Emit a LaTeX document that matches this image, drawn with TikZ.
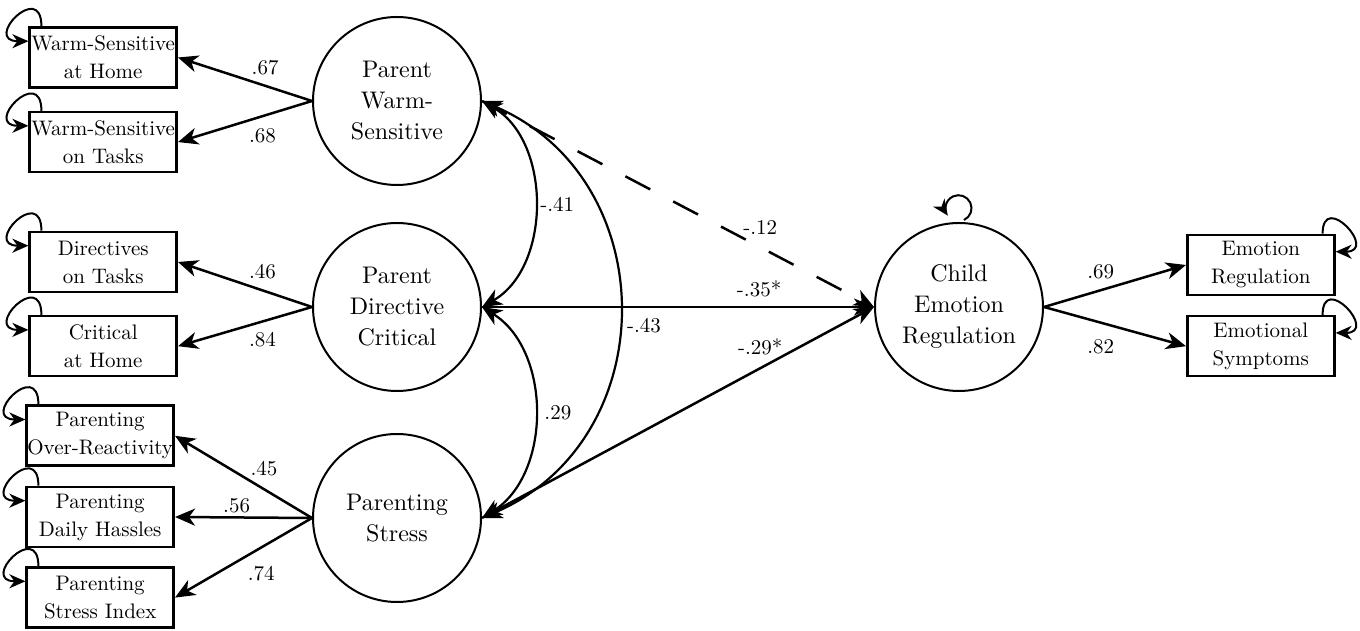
\documentclass[tikz,border=0pt]{standalone}
\usepackage{fontspec}
\setmainfont{lmroman10-regular.otf}
\usepackage{tikz}
\usetikzlibrary{arrows.meta, positioning}

\begin{document}
\begin{tikzpicture}[
    x=1pt, y=1pt,
    latent/.style={circle, draw, line width=2pt, minimum size=168pt, inner sep=0pt, align=center, font=\fontsize{24}{31}\selectfont},
    obs/.style={rectangle, draw, line width=2.6pt, minimum width=147pt, minimum height=60pt, inner sep=0pt, align=center, font=\fontsize{21}{28}\selectfont},
    arrow/.style={-{Stealth[length=20pt, width=17pt, inset=6pt]}, line width=2.5pt},
    cov/.style={{Stealth[length=20pt, width=17pt, inset=6pt]}-{Stealth[length=20pt, width=17pt, inset=6pt]}, line width=2.2pt},
    err/.style={-{Stealth[length=16pt, width=14pt, inset=5pt]}, line width=2pt},
    coef/.style={font=\fontsize{21}{24}\selectfont, inner sep=1pt}
]
\useasboundingbox (0,0) rectangle (1360,631);

% Latent variables
\node[latent] (warm) at (397,530) {Parent\\Warm-\\Sensitive};
\node[latent, below=36pt of warm] (direct) {Parent\\Directive\\Critical};
\node[latent, below=41pt of direct] (stress) {Parenting\\Stress};
\node[latent, right=392pt of direct] (child) {Child\\Emotion\\Regulation};

% Indicators
\node[obs, left=134pt of warm, yshift=43.5pt] (wsh) {Warm-Sensitive\\at Home};
\node[obs, below=22pt of wsh] (wst) {Warm-Sensitive\\on Tasks};
\node[obs, left=134pt of direct, yshift=45pt] (dot) {Directives\\on Tasks};
\node[obs, below=21.6pt of dot] (cah) {Critical\\at Home};
\node[obs, left=137pt of stress, yshift=1pt] (pdh) {Parenting\\Daily Hassles};
\node[obs, above=18.6pt of pdh] (por) {Parenting\\Over-Reactivity};
\node[obs, below=18pt of pdh] (psi) {Parenting\\Stress Index};
\node[obs, right=142pt of child, yshift=42pt] (er) {Emotion\\Regulation};
\node[obs, below=18.6pt of er] (es) {Emotional\\Symptoms};

% Loadings
\draw[arrow] (warm.west) -- node[coef, pos=.35, above=9pt] {.67} (wsh.east);
\draw[arrow] (warm.west) -- node[coef, pos=.37, below=10pt] {.68} (wst.east);
\draw[arrow] (direct.west) -- node[coef, pos=.37, above=9pt] {.46} (dot.east);
\draw[arrow] (direct.west) -- node[coef, pos=.37, below=9pt] {.84} (cah.east);
\draw[arrow] (stress.west) -- node[coef, pos=.35, above=11pt] {.45} (por.east);
\draw[arrow] (stress.west) -- node[coef, pos=.55, above=2pt] {.56} (pdh.east);
\draw[arrow] (stress.west) -- node[coef, pos=.37, below=17pt] {.74} (psi.east);
\draw[arrow] (child.east) -- node[coef, pos=.4, above=9pt] {.69} (er.west);
\draw[arrow] (child.east) -- node[coef, pos=.4, below=15pt] {.82} (es.west);

% Paths to child
\draw[arrow, dash pattern=on 28pt off 26pt] (warm.east) -- node[coef, pos=.71, above=11pt] {-.12} (child.west);
\draw[arrow] (direct.east) -- node[coef, pos=.707, above=8pt] {-.35*} (child.west);
\draw[arrow] (stress.east) -- node[coef, pos=.71, above=11pt] {-.29*} (child.west);

% Covariances
\draw[cov] (warm.east) to[bend left=60] node[coef, right=4pt] {-.41} (direct.east);
\draw[cov] (warm.east) to[bend left=67, looseness=1.22] node[coef, right=6pt, yshift=-16pt] {-.43} (stress.east);
\draw[cov] (direct.east) to[bend left=58] node[coef, right=8pt] {.29} (stress.east);

% Error loops
\foreach \b in {wsh,wst,dot,cah,por,pdh,psi}
  \draw[err] ([xshift=13pt]\b.north west) to[out=90, in=180, looseness=6] ([yshift=-15pt]\b.north west);
\foreach \b in {er,es}
  \draw[err] ([xshift=-13pt]\b.north east) to[out=90, in=0, looseness=5] ([yshift=-18pt]\b.north east);
\draw[err] ([xshift=5pt, yshift=2pt]child.north) arc[start angle=-65, end angle=215, radius=13pt];

\end{tikzpicture}
\end{document}
